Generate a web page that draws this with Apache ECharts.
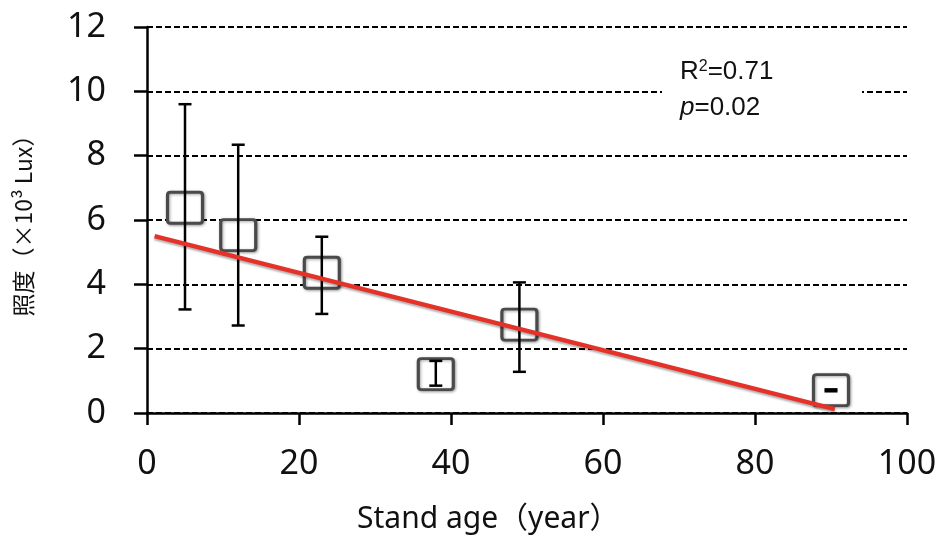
<!DOCTYPE html>
<html>
<head>
<meta charset="utf-8">
<script src="https://cdn.jsdelivr.net/npm/echarts@6/dist/echarts.min.js"></script>
<style>html,body{margin:0;padding:0;background:#fff;}#c{width:943px;height:540px;}</style>
</head>
<body>
<div id="c"></div>
<script>
// Data
const standAge = [5, 12, 23, 38, 49, 90];
const illuminance = [6.38, 5.53, 4.36, 1.21, 2.75, 0.71];
const errLow = [3.22, 2.72, 3.08, 0.85, 1.28, 0.675];
const errHigh = [9.6, 8.34, 5.48, 1.62, 4.06, 0.735];
const trendX = [1, 90.5];
const trendY = [5.5, 0.12];
const xTicks = [0, 20, 40, 60, 80, 100];
const yTicks = [0, 2, 4, 6, 8, 10, 12];
const annotR2 = '0.71';
const annotP = '0.02';

const chart = echarts.init(document.getElementById('c'));
const font = '"Noto Sans", "Noto Sans CJK JP", sans-serif';
const cjk = '"Noto Sans CJK JP", "Noto Sans", sans-serif';

const scatterData = standAge.map((x, i) => [x, illuminance[i]]);
const errData = standAge.map((x, i) => [x, errLow[i], errHigh[i]]);
const trendData = trendX.map((x, i) => [x, trendY[i]]);

chart.setOption({
  animation: false,
  backgroundColor: '#fff',
  grid: { left: 147, right: 36, top: 27, bottom: 127 },
  title: {
    text: 'Stand age（year）',
    left: 352, top: 499,
    textStyle: { fontFamily: font, fontSize: 30, fontWeight: 'normal', color: '#111' }
  },
  xAxis: {
    type: 'value', min: xTicks[0], max: xTicks[xTicks.length - 1], interval: 20,
    axisLine: { onZero: false, lineStyle: { color: '#000', width: 2.5 } },
    axisTick: { show: true, length: 12, lineStyle: { color: '#000', width: 2.5 } },
    axisLabel: { margin: 34, fontFamily: font, fontSize: 34, color: '#111' },
    splitLine: { show: false }
  },
  yAxis: {
    type: 'value', min: yTicks[0], max: yTicks[yTicks.length - 1], interval: 2,
    name: '照度（×10³ Lux）', nameLocation: 'middle', nameGap: 112,
    nameTextStyle: { fontFamily: cjk, fontSize: 23, color: '#111' },
    axisLine: { show: true, lineStyle: { color: '#000', width: 2.5 } },
    axisTick: { show: true, length: 13, lineStyle: { color: '#000', width: 2.5 } },
    axisLabel: { margin: 41, fontFamily: font, fontSize: 34, color: '#111', padding: [4, 0, 0, 0] },
    splitLine: { show: true, lineStyle: { color: '#000', width: 2, type: [6, 3] } }
  },
  graphic: [
    { type: 'rect', z: 50, shape: { x: 662, y: 55, width: 200, height: 75 }, style: { fill: '#fff' } },
    { type: 'text', z: 51, left: 680, top: 59,
      style: { text: '{a|R}{s|2}{a|=' + annotR2 + '}', rich: {
        a: { fontFamily: 'Liberation Sans, Arial, sans-serif', fontSize: 26, fill: '#111' },
        s: { fontFamily: 'Liberation Sans, Arial, sans-serif', fontSize: 16, fill: '#111', verticalAlign: 'top', padding: [0,0,10,0] } } } },
    { type: 'text', z: 51, left: 680, top: 95,
      style: { text: '{i|p}{a|=' + annotP + '}', rich: {
        a: { fontFamily: 'Liberation Sans, Arial, sans-serif', fontSize: 26, fill: '#111' },
        i: { fontFamily: 'Liberation Sans, Arial, sans-serif', fontSize: 26, fontStyle: 'italic', fill: '#111' } } } }
  ],
  series: [
    {
      type: 'scatter', z: 2, data: scatterData,
      symbol: 'path://M3,0 H32 Q35,0 35,3 V28 Q35,31 32,31 H3 Q0,31 0,28 V3 Q0,0 3,0 Z',
      symbolKeepAspect: false, symbolSize: [35, 31],
      itemStyle: { color: '#fff', opacity: 1, borderColor: '#4a4a4a', borderWidth: 3,
        shadowBlur: 3, shadowColor: 'rgba(0,0,0,0.35)', shadowOffsetX: 1, shadowOffsetY: 1 }
    },
    {
      type: 'custom', z: 3, data: errData,
      renderItem: function (params, api) {
        const x = api.value(0);
        const lo = api.coord([x, api.value(1)]);
        const hi = api.coord([x, api.value(2)]);
        const hw = 6.5;
        const st = { stroke: '#000', lineWidth: 2.5 };
        return { type: 'group', children: [
          { type: 'line', shape: { x1: lo[0], y1: lo[1], x2: hi[0], y2: hi[1] }, style: st },
          { type: 'line', shape: { x1: lo[0] - hw, y1: lo[1], x2: lo[0] + hw, y2: lo[1] }, style: st },
          { type: 'line', shape: { x1: hi[0] - hw, y1: hi[1], x2: hi[0] + hw, y2: hi[1] }, style: st }
        ] };
      }
    },
    {
      type: 'line', z: 4, data: trendData, showSymbol: false, symbol: 'none',
      lineStyle: { color: '#e53228', width: 4.5, shadowColor: 'rgba(0,0,0,0.3)', shadowBlur: 2, shadowOffsetY: 2 }
    }
  ]
});
</script>
</body>
</html>
